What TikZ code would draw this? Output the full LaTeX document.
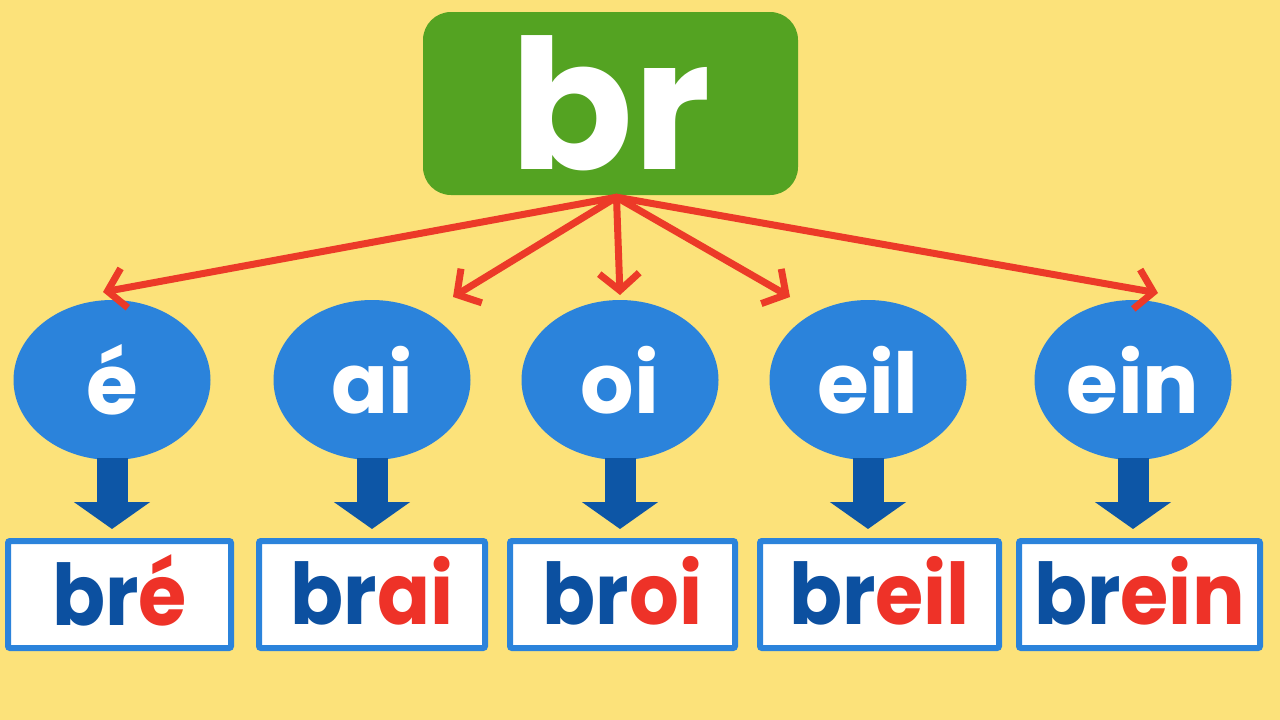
\documentclass[tikz,border=0pt]{standalone}
\usepackage{fontspec}
\setmainfont{Poppins}
\newfontfamily\wordfont{Poppins}[FakeStretch=0.92]
\usetikzlibrary{arrows.meta,shapes.geometric,calc}
\definecolor{bgyellow}{RGB}{252,226,122}
\definecolor{topgreen}{RGB}{84,163,34}
\definecolor{vowelblue}{RGB}{43,131,219}
\definecolor{dropblue}{RGB}{13,86,166}
\definecolor{wordblue}{RGB}{12,80,160}
\definecolor{spokered}{RGB}{236,58,40}
\definecolor{wordred}{RGB}{238,50,40}
\tikzset{
  vowel/.style={ellipse,fill=vowelblue,minimum width=197pt,minimum height=160pt,
    inner sep=0pt,text=white,font=\fontsize{84}{84}\selectfont\bfseries},
  word/.style={draw=vowelblue,line width=6pt,fill=white,minimum height=107pt,
    inner sep=0pt,text depth=8pt,rounded corners=2pt,
    font=\wordfont\fontsize{85}{85}\selectfont\bfseries},
  spoke/.style={draw=spokered,line width=7pt,line cap=round,line join=round,
    -{Straight Barb[length=17pt,width=40pt]}},
  drop/.style={draw=dropblue,line width=31pt,-{Triangle[length=27pt,width=75pt]}}
}
\begin{document}
\begin{tikzpicture}[x=1pt,y=-1pt]
\fill[bgyellow] (0,0) rectangle (1280,720);
\useasboundingbox (0,0) rectangle (1280,720);
\node[fill=topgreen,rounded corners=28pt,minimum width=375pt,minimum height=183pt,
  inner sep=0pt,text=white,font=\fontsize{181}{181}\selectfont\bfseries] (top) at (610.5,103.5) {br};
% vowels, words and the arrows between them
\foreach \n/\x/\v/\bx/\bw in {1/112/é/119.5/223, 2/372/ai/372/226, 3/620/oi/622.5/225,
    4/868/eil/879.5/239, 5/1133/ein/1139.5/241}{
  \node[vowel] (v\n) at (\x,380) {\v};
  \node[word,minimum width=\bw pt] (w\n) at (\bx,594.5)
    {\textcolor{wordblue}{br}\textcolor{wordred}{\v}};
  \draw[drop] ([yshift=2pt]v\n.south) -- ([yshift=9pt]v\n.south |- w\n.north);
}
\foreach \n/\x/\y in {1/103/292, 2/453/297, 3/620/295, 4/790/297, 5/1158/293}{
  \coordinate (t\n) at (\x,\y);
  \draw[spoke] ([xshift=6pt,yshift=-2pt]top.south) -- (t\n);
}
\end{tikzpicture}
\end{document}
